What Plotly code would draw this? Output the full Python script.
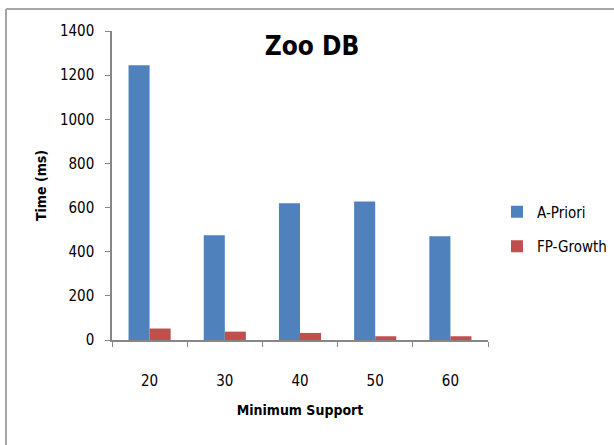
import plotly.graph_objects as go

# Minimum support thresholds (%) and run times (ms)
support = ["20", "30", "40", "50", "60"]
apriori_ms = [1245, 475, 620, 628, 470]
fpgrowth_ms = [52, 38, 32, 17, 17]

FONT = "'Liberation Sans Narrow', 'DejaVu Sans Condensed', 'Open Sans', sans-serif"
AXIS_GREY = "#868686"

fig = go.Figure()
fig.add_trace(go.Bar(x=support, y=apriori_ms, name="A-Priori",
                     marker=dict(color="#4F81BD", line=dict(width=0)),
                     legendgroup="a"))
fig.add_trace(go.Bar(x=support, y=fpgrowth_ms, name="FP-Growth",
                     marker=dict(color="#C0504D", line=dict(width=0)),
                     legendgroup="b"))

# plot area spans 112..488 px horizontally, 31..340 px vertically
L, R, T, B, W, H = 112, 126, 31, 105, 614, 445
pw, ph = W - L - R, H - T - B

def px_x(p):
    return (p - L) / pw

def px_y(p):
    return (H - B - p) / ph

# outer chart frame (left and top edges visible)
fig.add_shape(type="line", xref="paper", yref="paper",
              x0=px_x(6), x1=px_x(6), y0=px_y(9), y1=px_y(460),
              line=dict(color="#A6A6A6", width=2))
fig.add_shape(type="line", xref="paper", yref="paper",
              x0=px_x(6), x1=px_x(630), y0=px_y(9), y1=px_y(9),
              line=dict(color="#A6A6A6", width=2))

fig.update_layout(
    width=W, height=H,
    margin=dict(l=L, r=R, t=T, b=B, autoexpand=False),
    paper_bgcolor="white", plot_bgcolor="white",
    barmode="group", bargap=0.44, bargroupgap=0,
    font=dict(family=FONT, size=15, color="#000000"),
    title=dict(text="<b>Zoo DB</b>", xref="container", x=312 / W,
               xanchor="center", y=1 - 46 / H, yanchor="middle",
               font=dict(size=26, family=FONT, color="#000000")),
    legend=dict(x=px_x(497), xanchor="left", y=px_y(229), yanchor="middle",
                font=dict(size=15, family=FONT), tracegroupgap=12,
                itemwidth=30, bgcolor="rgba(0,0,0,0)"),
    showlegend=True,
)

fig.update_xaxes(
    type="category", tickson="boundaries", ticks="outside", ticklen=5,
    tickcolor=AXIS_GREY, showline=True, linecolor=AXIS_GREY, linewidth=1.5,
    showgrid=False, tickfont=dict(size=15), ticklabelstandoff=26,
    title=dict(text="<b>Minimum Support</b>", font=dict(size=14), standoff=16),
)
fig.update_yaxes(
    range=[0, 1400], tickvals=list(range(0, 1401, 200)), ticks="outside",
    ticklen=5, tickcolor=AXIS_GREY, showline=True, linecolor=AXIS_GREY,
    linewidth=1.5, showgrid=False, zeroline=False, tickfont=dict(size=15),
    ticklabelstandoff=8,
    title=dict(text="<b>Time (ms)</b>", font=dict(size=14), standoff=10),
)

fig.write_html("out.html")
